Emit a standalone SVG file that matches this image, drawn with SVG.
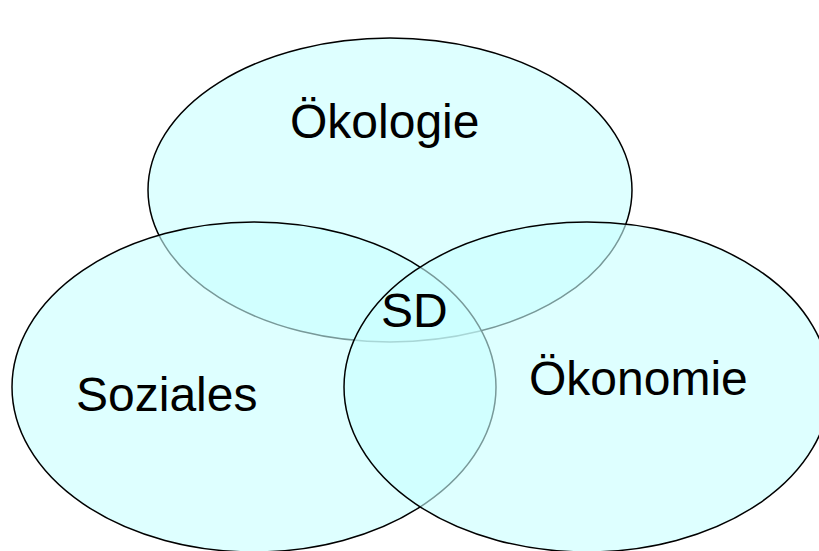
<svg xmlns="http://www.w3.org/2000/svg" width="819" height="551" viewBox="0 0 819 551">
<style>
.c{fill:#c8ffff;fill-opacity:0.6;stroke:#000;stroke-width:1.5}
.t{font-family:"Liberation Sans",Arial,sans-serif;font-size:48px;fill:#000}
</style>
<rect width="819" height="551" fill="#fff"/>
<g id="oekologie">
<ellipse class="c" cx="390" cy="190" rx="242" ry="152"/>
<text class="t" x="290" y="138">Ökologie</text>
</g>
<g id="soziales">
<ellipse class="c" cx="254" cy="387" rx="242" ry="165"/>
<text class="t" x="76" y="411">Soziales</text>
</g>
<g id="oekonomie">
<ellipse class="c" cx="587" cy="387" rx="243" ry="165"/>
<text class="t" x="529" y="395">Ökonomie</text>
</g>
<g id="sd">
<text class="t" x="381" y="327">SD</text>
</g>
<g id="connectors"></g>
</svg>
